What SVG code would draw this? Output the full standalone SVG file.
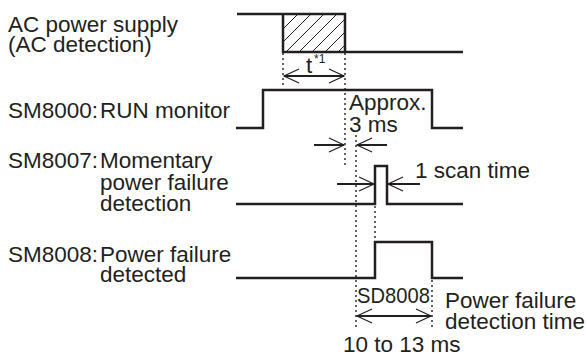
<svg xmlns="http://www.w3.org/2000/svg" width="586" height="356" viewBox="0 0 586 356">
<style>
text{font-family:"Liberation Sans",Arial,sans-serif;font-size:22.5px;fill:#231f20}
.sig{fill:none;stroke:#231f20;stroke-width:2.5}
.dot{fill:none;stroke:#231f20;stroke-width:1.4;stroke-dasharray:2 3}
.arr{fill:none;stroke:#231f20;stroke-width:2}
</style>
<defs>
<pattern id="hatch" patternUnits="userSpaceOnUse" width="13" height="13" patternTransform="rotate(0)">
<path d="M-1,14 L14,-1 M-7,7 L7,-7 M6,20 L20,6" stroke="#231f20" stroke-width="1"/>
</pattern>
<marker id="ah" markerUnits="userSpaceOnUse" viewBox="-16 -8 17 16" refX="0" refY="0" markerWidth="17" markerHeight="16" orient="auto-start-reverse" overflow="visible">
<path d="M-15,-7 L0,0 L-15,7" fill="none" stroke="#231f20" stroke-width="1.2"/>
</marker>
</defs>
<rect width="586" height="356" fill="#fff"/>

<g id="ac-power">
<text x="8" y="32">AC power supply</text>
<text x="8" y="52">(AC detection)</text>
<rect x="283" y="14" width="62" height="38" fill="url(#hatch)"/>
<path class="sig" d="M237,14 H345 V52 H463 M283,14 V52 H345"/>
</g>

<g id="sm8000">
<text x="8" y="118">SM8000:</text>
<text x="100" y="118">RUN monitor</text>
<path class="sig" d="M236,128 H263 V90 H432 V128 H463"/>
</g>

<g id="sm8007">
<text x="8" y="168">SM8007:</text>
<text x="100" y="168">Momentary</text>
<text x="100" y="190">power failure</text>
<text x="100" y="211">detection</text>
<path class="sig" d="M236,204 H375 V166 H387 V204 H463"/>
</g>

<g id="sm8008">
<text x="8" y="262">SM8008:</text>
<text x="100" y="262">Power failure</text>
<text x="100" y="282">detected</text>
<path class="sig" d="M236,278 H375 V242 H432 V278 H463"/>
</g>

<g id="labels">
<text x="306" y="73">t</text>
<text x="314" y="63" style="font-size:12px">*1</text>
<text x="349" y="110">Approx.</text>
<text x="349" y="132">3 ms</text>
<text x="415" y="178">1 scan time</text>
<text x="357" y="303" textLength="73" lengthAdjust="spacingAndGlyphs">SD8008</text>
<text x="445" y="308">Power failure</text>
<text x="445" y="329">detection time</text>
<text x="343" y="352">10 to 13 ms</text>
</g>

<g id="connectors">
<path class="dot" d="M283,53 V86"/>
<path class="dot" d="M345,53 V165"/>
<path class="dot" d="M356,135 V330"/>
<path class="dot" d="M375,206 V242"/>
<path class="dot" d="M432,280 V328"/>
<path class="arr" d="M284,76 H344" marker-start="url(#ah)" marker-end="url(#ah)"/>
<path class="arr" d="M314,145 H344" marker-end="url(#ah)"/>
<path class="arr" d="M387,145 H357" marker-end="url(#ah)"/>
<path class="arr" d="M337,184 H374" marker-end="url(#ah)"/>
<path class="arr" d="M420,184 H388" marker-end="url(#ah)"/>
<path class="arr" d="M357,316 H431" marker-start="url(#ah)" marker-end="url(#ah)"/>
</g>
</svg>
